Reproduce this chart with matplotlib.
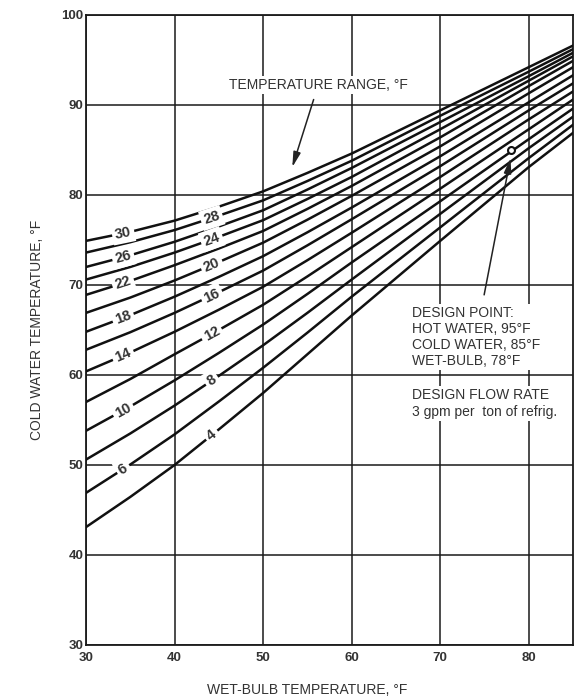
"""cooling tower performance curves: cold water temp vs wet-bulb temp"""

import numpy as np
import matplotlib.pyplot as plt

plt.rcParams['font.family'] = ['Liberation Sans', 'DejaVu Sans']

# wet-bulb temperatures where the curves were read
wet_bulb = [30, 35, 40, 45, 50, 55, 60, 65, 70, 75, 80, 85]
# temperature ranges, top curve first
ranges = [30, 28, 26, 24, 22, 20, 18, 16, 14, 12, 10, 8, 6, 4]
# cold water temperature of each range curve at each wet-bulb
cw_at_30 = [74.9, 73.6, 72.0, 70.6, 68.9, 66.9, 64.8, 62.8, 60.4, 57.0, 53.8, 50.6, 46.9, 43.1]
cw_at_35 = [75.9, 74.75, 73.3, 72.0, 70.45, 68.6, 66.65, 64.75, 62.5, 59.55, 56.5, 53.5, 50.05, 46.45]
cw_at_40 = [77.15, 76.1, 74.8, 73.6, 72.2, 70.5, 68.7, 66.9, 64.8, 62.3, 59.4, 56.6, 53.4, 50.0]
cw_at_45 = [78.7, 77.7, 76.5, 75.35, 74.05, 72.55, 70.9, 69.2, 67.25, 65.0, 62.45, 59.9, 57.05, 53.95]
cw_at_50 = [80.4, 79.4, 78.3, 77.2, 76.0, 74.7, 73.2, 71.6, 69.8, 67.8, 65.6, 63.3, 60.8, 58.0]
cw_at_55 = [82.45, 81.55, 80.6, 79.55, 78.45, 77.25, 75.85, 74.4, 72.75, 70.95, 69.0, 66.9, 64.7, 62.3]
cw_at_60 = [84.6, 83.8, 83.0, 82.0, 81.0, 79.9, 78.6, 77.3, 75.8, 74.2, 72.5, 70.6, 68.7, 66.6]
cw_at_65 = [87.0, 86.3, 85.55, 84.65, 83.7, 82.65, 81.45, 80.25, 78.9, 77.45, 75.9, 74.25, 72.55, 70.75]
cw_at_70 = [89.4, 88.8, 88.1, 87.3, 86.4, 85.4, 84.3, 83.2, 82.0, 80.7, 79.3, 77.9, 76.4, 74.9]
cw_at_75 = [91.8, 91.25, 90.65, 90.0, 89.25, 88.35, 87.3, 86.3, 85.2, 84.0, 82.75, 81.55, 80.25, 79.0]
cw_at_80 = [94.2, 93.7, 93.2, 92.7, 92.1, 91.3, 90.3, 89.4, 88.4, 87.3, 86.2, 85.2, 84.1, 83.1]
cw_at_85 = [96.6, 96.2, 95.8, 95.4, 94.9, 94.2, 93.3, 92.4, 91.5, 90.6, 89.6, 88.7, 87.8, 86.9]
# wet-bulb where each curve's number sits
label_wb = [34.2, 44.2, 34.2, 44.2, 34.2, 44.2, 34.2, 44.2, 34.2, 44.2, 34.2, 44.2, 34.2, 44.2]

design_wb = 78
design_cw = 85

curves = np.array([cw_at_30, cw_at_35, cw_at_40, cw_at_45, cw_at_50, cw_at_55,
                   cw_at_60, cw_at_65, cw_at_70, cw_at_75, cw_at_80, cw_at_85]).T

fig = plt.figure(figsize=(5.75, 6.96), dpi=100)
ax = fig.add_axes([0.1496, 0.0733, 0.847, 0.9052])
ax.set_xlim(30, 85)
ax.set_ylim(30, 100)
ax.set_xticks([30, 40, 50, 60, 70, 80])
ax.set_yticks([30, 40, 50, 60, 70, 80, 90, 100])
ax.grid(True, color='#1a1a1a', lw=1.1)
ax.set_axisbelow(True)
for s in ax.spines.values():
    s.set_linewidth(1.3)
    s.set_color('#1a1a1a')
ax.tick_params(length=0, labelsize=9.5, labelcolor='#333333', pad=5)
ax.tick_params(axis='y', pad=2)
for lab in ax.get_xticklabels() + ax.get_yticklabels():
    lab.set_fontweight('bold')

for r, cw in zip(ranges, curves):
    ax.plot(wet_bulb, cw, color='#111111', lw=1.8, solid_joinstyle='round', zorder=3)

fig.canvas.draw()
for r, cw, lx in zip(ranges, curves, label_wb):
    ly = np.interp(lx, wet_bulb, cw)
    p1 = ax.transData.transform((lx - 1, np.interp(lx - 1, wet_bulb, cw)))
    p2 = ax.transData.transform((lx + 1, np.interp(lx + 1, wet_bulb, cw)))
    ang = np.degrees(np.arctan2(p2[1] - p1[1], p2[0] - p1[0]))
    ax.text(lx, ly, str(r), rotation=ang, rotation_mode='anchor', ha='center', va='center',
            fontsize=10.5, fontweight='bold', color='#333333', zorder=5,
            bbox=dict(fc='white', ec='none', pad=2.2))

# design point
ax.plot(design_wb, design_cw, 'o', ms=5, mfc='white', mec='#111111', mew=1.5, zorder=6)

ax.text(56.3, 92.2, 'TEMPERATURE RANGE, °F', ha='center', va='center', fontsize=10,
        color='#333333', zorder=5, bbox=dict(fc='white', ec='none', pad=1.5))
ax.annotate('', xy=(53.2, 82.8), xytext=(55.8, 90.9),
            arrowprops=dict(arrowstyle='-|>,head_length=0.9,head_width=0.22', color='#222222', lw=1.1),
            zorder=5)

ax.text(66.8, 67.7, 'DESIGN POINT:\nHOT WATER, 95°F\nCOLD WATER, 85°F\nWET-BULB, 78°F',
        ha='left', va='top', fontsize=10, color='#333333', linespacing=1.2, zorder=5,
        bbox=dict(fc='white', ec='none', pad=1.5))
ax.text(66.8, 58.5, 'DESIGN FLOW RATE\n3 gpm per  ton of refrig.',
        ha='left', va='top', fontsize=10, color='#333333', linespacing=1.2, zorder=5,
        bbox=dict(fc='white', ec='none', pad=1.5))
ax.annotate('', xy=(design_wb, design_cw - 0.6), xytext=(74.9, 68.6),
            arrowprops=dict(arrowstyle='-|>,head_length=0.9,head_width=0.22', color='#222222', lw=1.1),
            zorder=5)

ax.set_xlabel('WET-BULB TEMPERATURE, °F', fontsize=10, color='#333333', labelpad=14)
ax.xaxis.label.set_x(0.455)
ax.set_ylabel('COLD WATER TEMPERATURE, °F', fontsize=10, color='#333333', labelpad=12)

fig.savefig('out.png', dpi=100)
